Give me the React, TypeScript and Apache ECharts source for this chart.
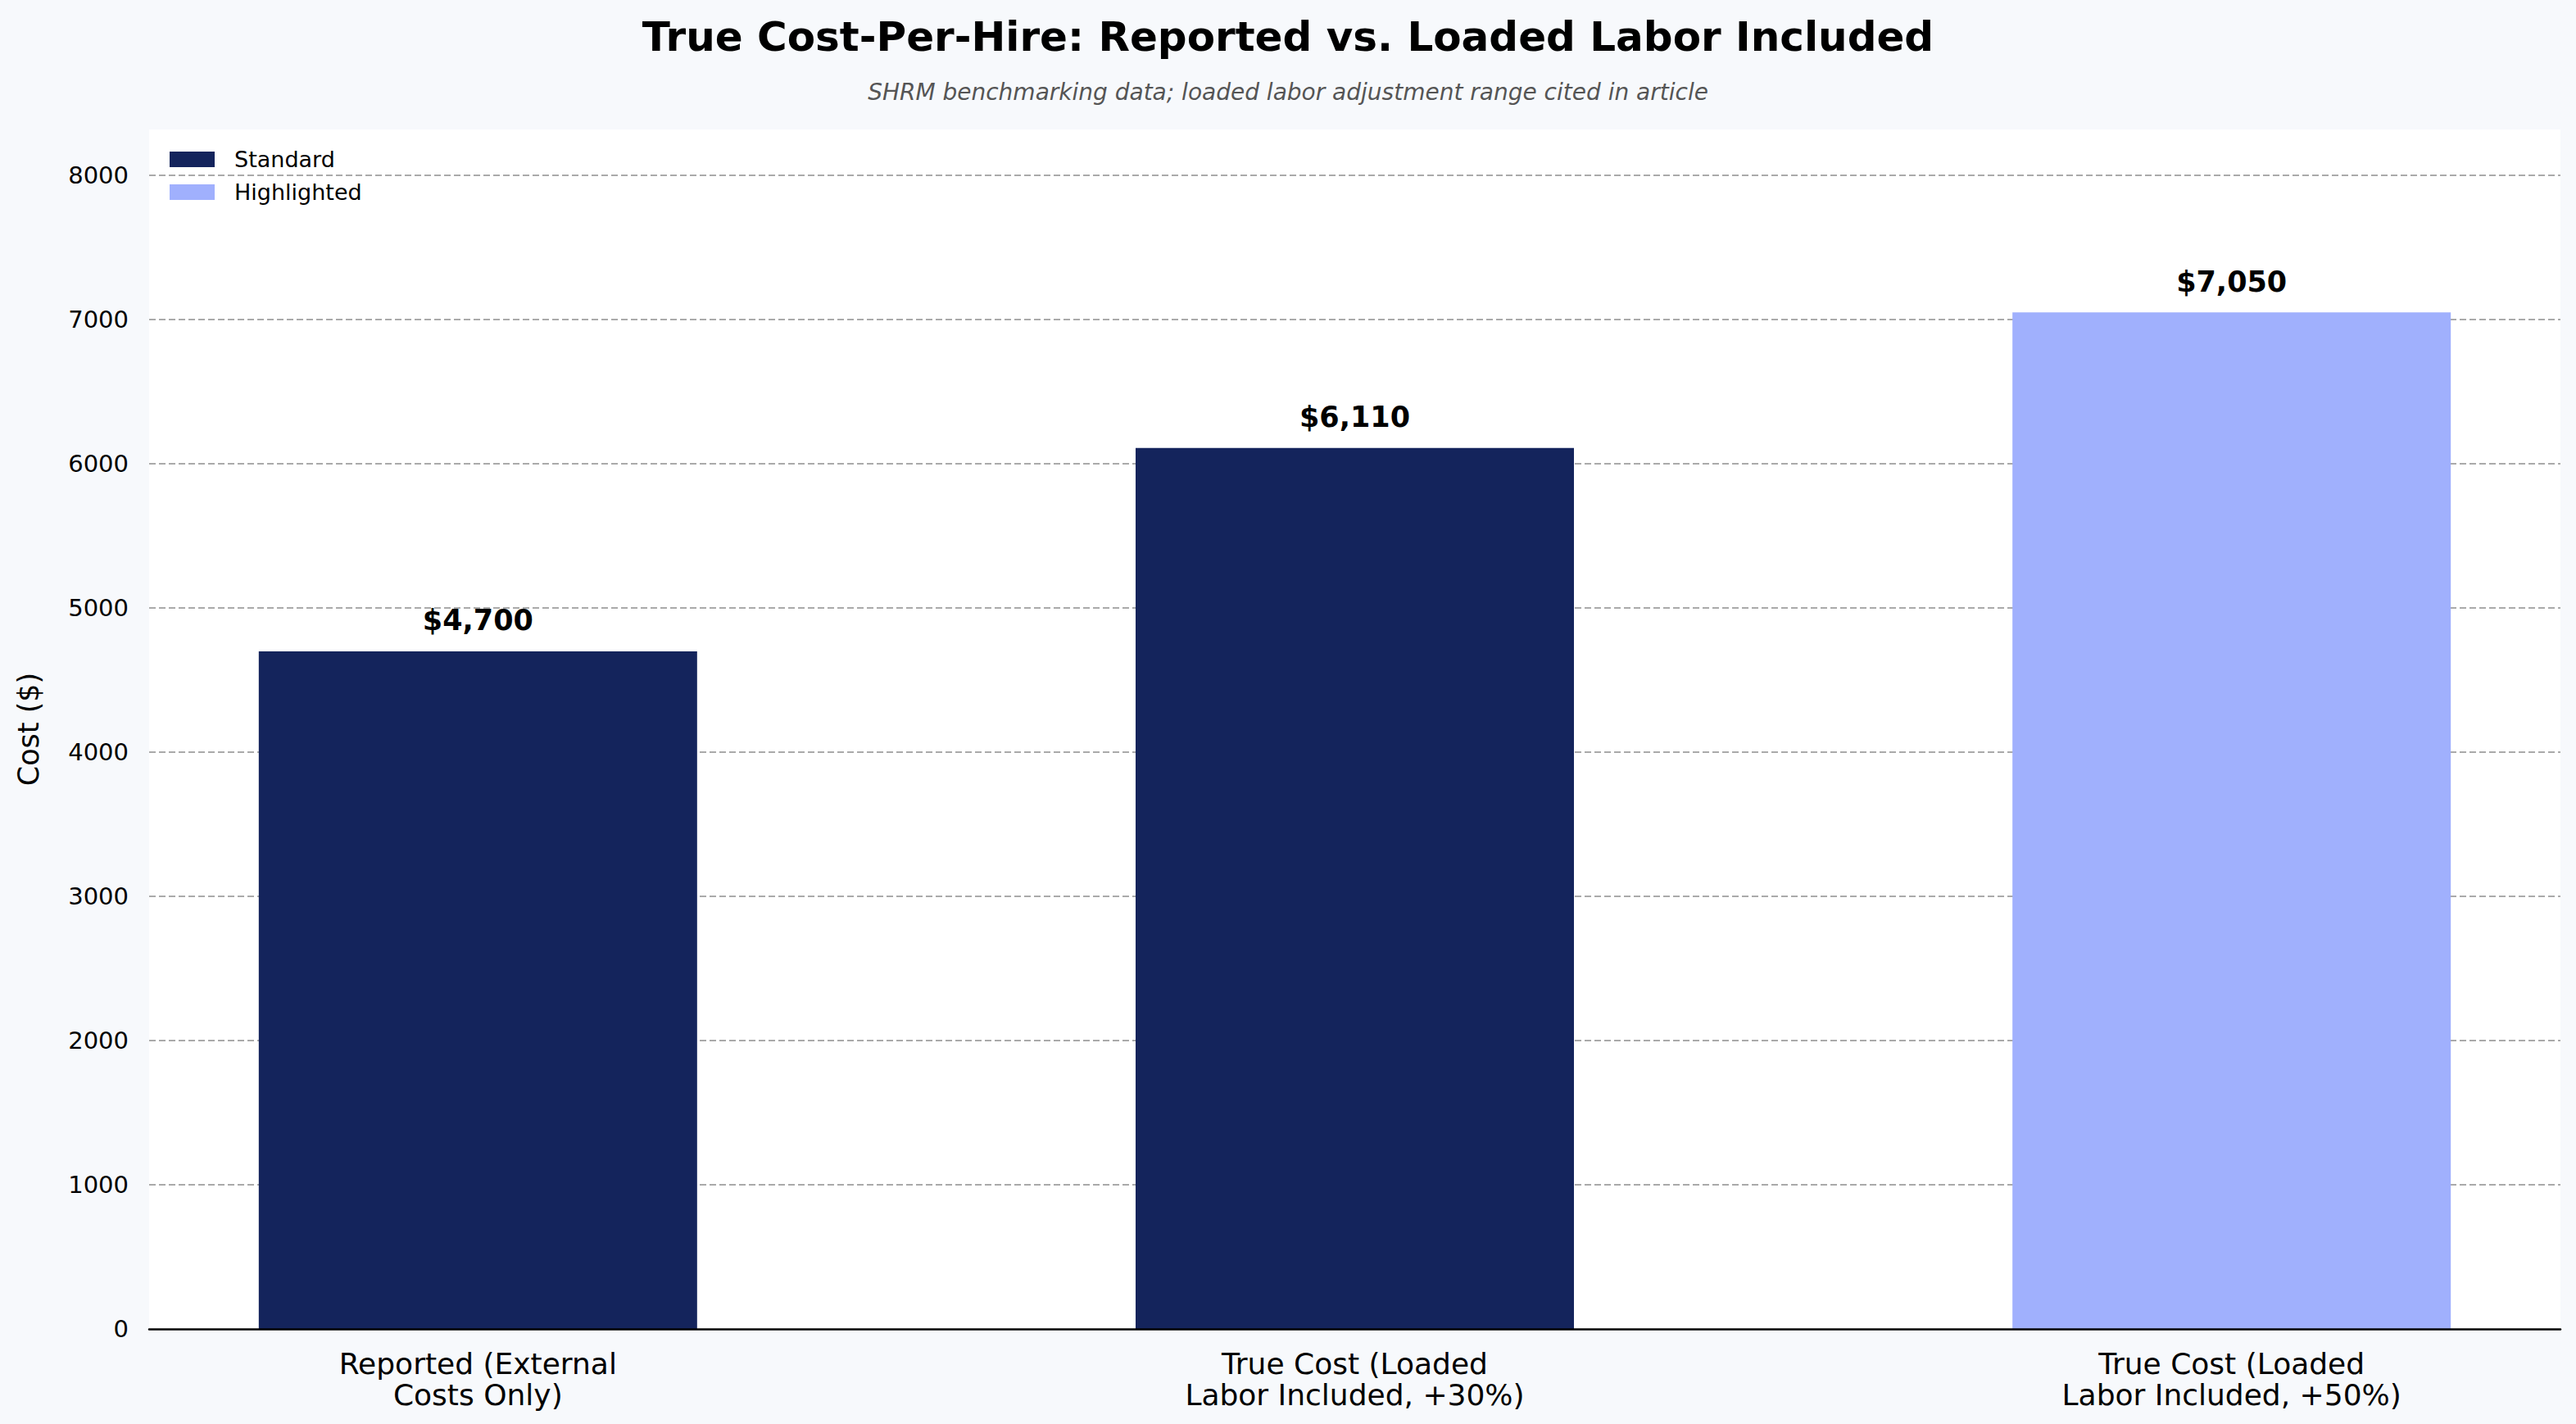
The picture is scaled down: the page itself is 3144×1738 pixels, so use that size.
import React, { useEffect, useRef } from "react";
import * as echarts from "echarts";

const categories = [
  "Reported (External\nCosts Only)",
  "True Cost (Loaded\nLabor Included, +30%)",
  "True Cost (Loaded\nLabor Included, +50%)",
];
const values = [4700, 6110, 7050];
const highlighted = [false, false, true];
const yTicks = [0, 1000, 2000, 3000, 4000, 5000, 6000, 7000, 8000];
const yMax = 8319;

const FONT = "DejaVu Sans";
const STD = "#14245c";
const HI = "#a0b0fd";

export default function App() {
  const ref = useRef<HTMLDivElement>(null);
  useEffect(() => {
    if (!ref.current) return;
    const chart = echarts.init(ref.current, null, { renderer: "svg" });
    const stdData = values
      .map((v, i) => (highlighted[i] ? null : [i, v]))
      .filter((d) => d !== null);
    const hiData = values
      .map((v, i) => (highlighted[i] ? [i, v] : null))
      .filter((d) => d !== null);
    const label = {
      show: true,
      position: "top",
      distance: 20,
      fontFamily: FONT,
      fontWeight: "bold",
      fontSize: 35,
      color: "#000",
      formatter: (p: any) => "$" + Number(p.value[1]).toLocaleString("en-US"),
    };
    chart.setOption({
      animation: false,
      backgroundColor: "#f7f9fc",
      textStyle: { fontFamily: FONT },
      title: [
        {
          text: "True Cost-Per-Hire: Reported vs. Loaded Labor Included",
          left: "center",
          top: 15,
          textStyle: { fontFamily: FONT, fontWeight: "bold", fontSize: 50, color: "#000" },
        },
        {
          text: "SHRM benchmarking data; loaded labor adjustment range cited in article",
          left: "center",
          top: 93,
          textStyle: { fontFamily: FONT, fontStyle: "italic", fontWeight: "normal", fontSize: 28, color: "#555" },
        },
      ],
      legend: {
        orient: "vertical",
        left: 207,
        top: 181,
        padding: 0,
        itemWidth: 55,
        itemHeight: 19,
        itemGap: 13,
        icon: "rect",
        textStyle: { fontFamily: FONT, fontSize: 27, color: "#000", padding: [0, 0, 0, 19] },
        data: ["Standard", "Highlighted"],
      },
      grid: {
        left: 182,
        right: 19,
        top: 158,
        bottom: 116,
        show: true,
        backgroundColor: "#ffffff",
        borderWidth: 0,
        containLabel: false,
      },
      xAxis: {
        type: "value",
        min: -0.375,
        max: 2.375,
        z: 10,
        axisLine: { show: true, lineStyle: { color: "#000", width: 2.5 } },
        axisTick: { show: false },
        splitLine: { show: false },
        axisLabel: {
          customValues: [0, 1, 2],
          formatter: (v: number) => categories[Math.round(v)] ?? "",
          fontFamily: FONT,
          fontSize: 36,
          lineHeight: 38,
          color: "#000",
          margin: 23,
          align: "center",
        },
      },
      yAxis: {
        type: "value",
        min: 0,
        max: yMax,
        name: "Cost ($)",
        nameLocation: "middle",
        nameGap: 130,
        nameRotate: 90,
        nameTextStyle: { fontFamily: FONT, fontSize: 35, color: "#000" },
        axisLine: { show: false },
        axisTick: { show: false },
        splitLine: { show: false },
        axisLabel: {
          customValues: yTicks,
          formatter: (v: number) => String(v),
          fontFamily: FONT,
          fontSize: 29,
          color: "#000",
          margin: 25,
        },
      },
      series: [
        {
          name: "Standard",
          type: "bar",
          data: stdData,
          barWidth: 535,
          barGap: "-100%",
          itemStyle: { color: STD },
          label,
          markLine: {
            silent: true,
            symbol: "none",
            z: 1,
            label: { show: false },
            lineStyle: { type: [8, 4], color: "#aaaaaa", width: 2 },
            data: yTicks.filter((t) => t > 0).map((t) => ({ yAxis: t })),
          },
        },
        {
          name: "Highlighted",
          type: "bar",
          data: hiData,
          barWidth: 535,
          barGap: "-100%",
          itemStyle: { color: HI },
          label,
        },
      ],
    });
    return () => chart.dispose();
  }, []);
  return (
    <div
      ref={ref}
      style={{ position: "fixed", left: 0, top: 0, width: 3144, height: 1738 }}
    />
  );
}
